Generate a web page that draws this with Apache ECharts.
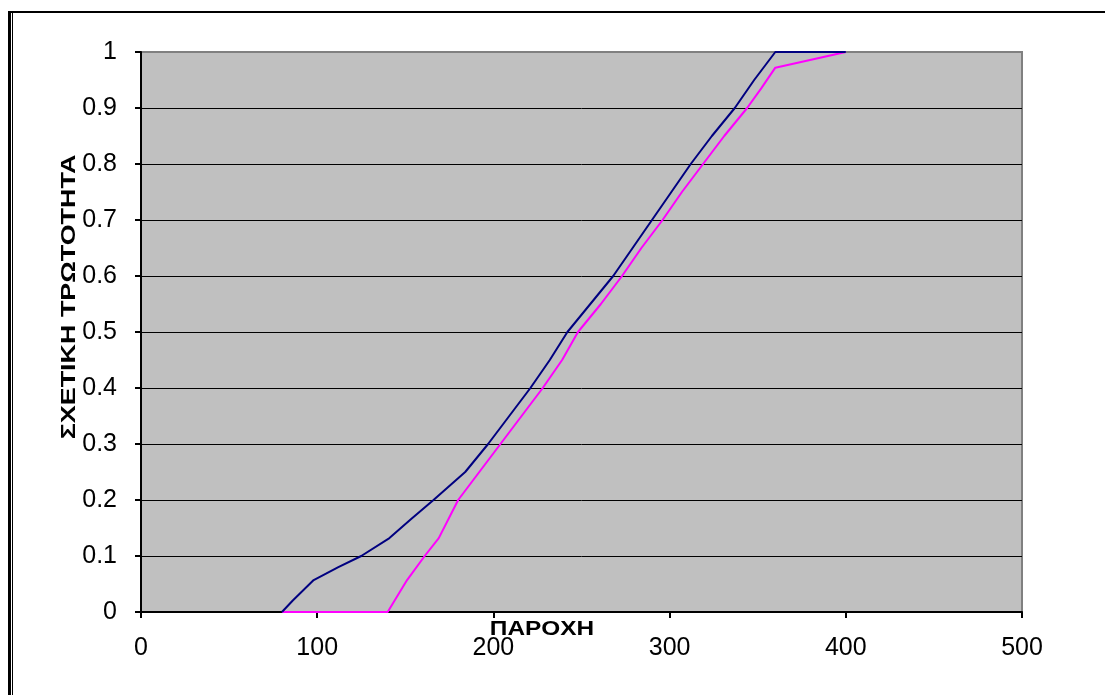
<!DOCTYPE html>
<html>
<head>
<meta charset="utf-8">
<script src="https://cdn.jsdelivr.net/npm/echarts@6/dist/echarts.min.js"></script>
<style>
  html, body { margin: 0; padding: 0; background: #fff; }
  #chart { width: 1105px; height: 695px; }
</style>
</head>
<body>
<div id="chart"></div>
<script>
// values
const xTicks = [0, 100, 200, 300, 400, 500];
const yTicks = [0, 0.1, 0.2, 0.3, 0.4, 0.5, 0.6, 0.7, 0.8, 0.9, 1];

const blueX = [80, 86, 98, 112, 125, 141, 153, 166, 184, 197, 209, 221, 232, 242, 255, 268, 279, 290, 301, 312, 324, 337, 348, 360, 400];
const blueY = [0, 0.02, 0.057, 0.08, 0.1, 0.132, 0.165, 0.2, 0.25, 0.3, 0.35, 0.4, 0.45, 0.5, 0.55, 0.6, 0.65, 0.7, 0.75, 0.8, 0.85, 0.9, 0.95, 1, 1];

const pinkX = [80, 140, 151, 161, 169, 180, 192, 204, 216, 228, 239, 248, 261, 273, 284, 296, 307, 319, 331, 344, 352, 360, 400];
const pinkY = [0, 0, 0.057, 0.1, 0.132, 0.2, 0.25, 0.3, 0.35, 0.4, 0.45, 0.5, 0.55, 0.6, 0.65, 0.7, 0.75, 0.8, 0.85, 0.9, 0.935, 0.972, 1];

const zip = (xs, ys) => xs.map((x, i) => [x, ys[i]]);
const font = "'Liberation Sans', Arial, sans-serif";

const chart = echarts.init(document.getElementById('chart'));
chart.setOption({
  animation: false,
  backgroundColor: '#fff',
  grid: {
    left: 141, top: 52, right: 83, bottom: 83,
    show: true,
    backgroundColor: '#c0c0c0',
    borderColor: '#808080',
    borderWidth: 2
  },
  xAxis: {
    type: 'value',
    min: xTicks[0],
    max: xTicks[xTicks.length - 1],
    interval: 100,
    axisLine: { onZero: false, lineStyle: { color: '#000', width: 2 } },
    axisTick: { show: true, length: 6, lineStyle: { color: '#000', width: 2 } },
    axisLabel: { color: '#000', fontSize: 25, fontFamily: font, margin: 24 },
    splitLine: { show: false }
  },
  yAxis: {
    type: 'value',
    min: yTicks[0],
    max: yTicks[yTicks.length - 1],
    interval: 0.1,
    axisLine: { show: true, lineStyle: { color: '#000', width: 2 } },
    axisTick: { show: true, length: 6, lineStyle: { color: '#000', width: 2 } },
    axisLabel: {
      color: '#000', fontSize: 25, fontFamily: font, margin: 24,
      formatter: v => String(+v.toFixed(1))
    },
    splitLine: { show: true, showMaxLine: false, showMinLine: false, lineStyle: { color: '#000', width: 1 } }
  },
  series: [
    {
      type: 'line',
      data: zip(blueX, blueY),
      symbol: 'none',
      lineStyle: { color: '#000080', width: 2 },
      z: 3
    },
    {
      type: 'line',
      data: zip(pinkX, pinkY),
      symbol: 'none',
      lineStyle: { color: '#ff00ff', width: 2 },
      z: 2
    }
  ],
  graphic: [
    { type: 'line', shape: { x1: 8, y1: 12, x2: 1105, y2: 12 }, style: { stroke: '#000', lineWidth: 2 } },
    { type: 'line', shape: { x1: 9.5, y1: 11, x2: 9.5, y2: 695 }, style: { stroke: '#000', lineWidth: 3 } },
    { type: 'line', shape: { x1: 12.5, y1: 13, x2: 12.5, y2: 695 }, style: { stroke: '#000', lineWidth: 1 } },
    {
      type: 'text', x: 542, y: 629, scaleX: 1.22,
      style: { text: 'ΠΑΡΟΧΗ', font: 'bold 20px ' + font, fill: '#000', align: 'center', verticalAlign: 'middle' }
    },
    {
      type: 'text', x: 69, y: 297, rotation: Math.PI / 2, scaleX: 1.28,
      style: { text: 'ΣΧΕΤΙΚΗ ΤΡΩΤΟΤΗΤΑ', font: 'bold 21px ' + font, fill: '#000', align: 'center', verticalAlign: 'middle' }
    }
  ]
});
</script>
</body>
</html>
